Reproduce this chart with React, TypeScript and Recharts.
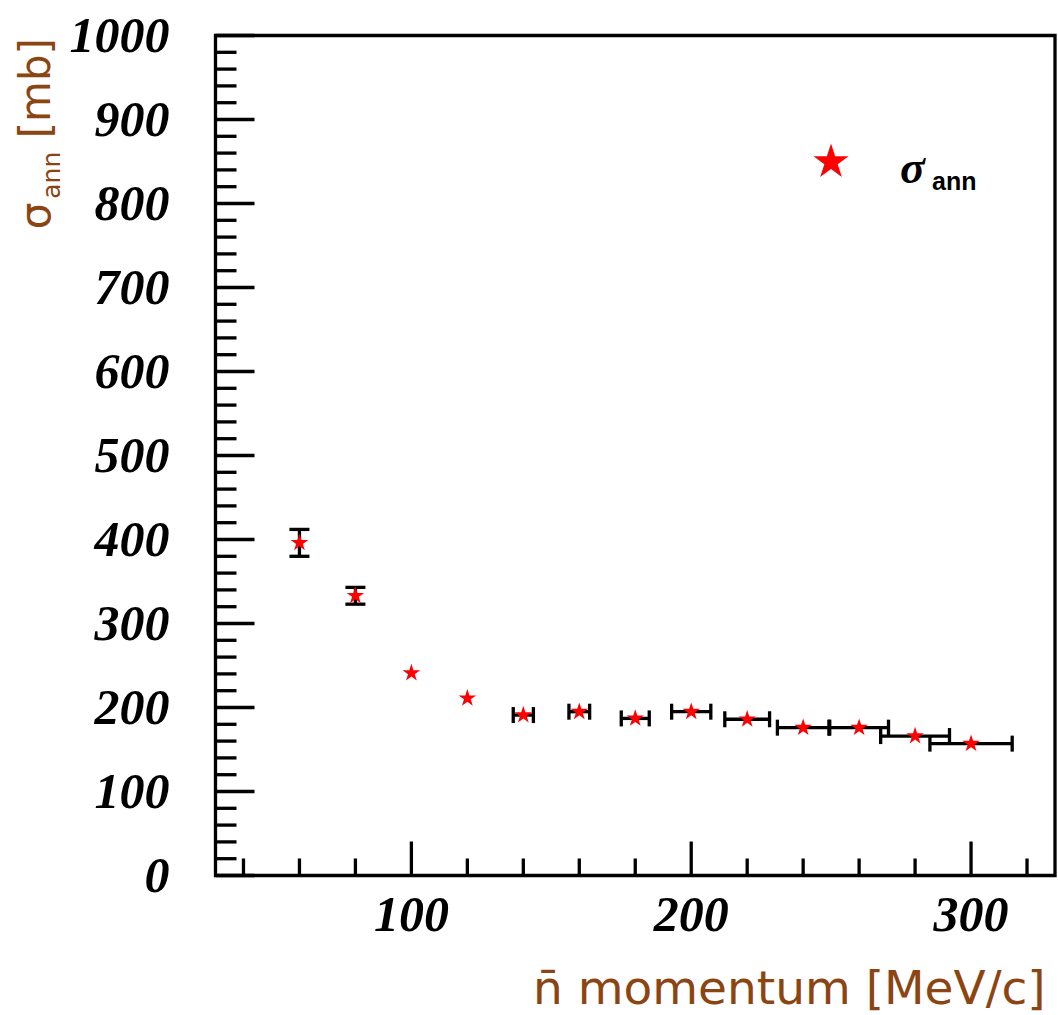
import React from 'react';
import {
  ScatterChart,
  Scatter,
  XAxis,
  YAxis,
  ErrorBar,
  ReferenceArea,
  Legend,
  Symbols,
} from 'recharts';

// Antineutron annihilation cross section vs. momentum
const momentum = [60, 80, 100, 120, 140, 160, 180, 200, 220, 240, 260, 280, 300];
const sigmaAnn = [396, 333, 241, 211, 191, 195, 187, 195, 186, 176, 176, 166, 157];
const sigmaErr = [16, 10, null, null, null, null, null, null, null, null, null, null, null];
const momentumErr = [null, null, null, null, 3.6, 3.7, 5, 7, 8, 9.2, 10.5, 12.3, 14.7];

// Axis ticks
const xTicks = [40, 60, 80, 100, 120, 140, 160, 180, 200, 220, 240, 260, 280, 300, 320];
const xMajorLabels = [100, 200, 300];
const yMajorLabels = [0, 100, 200, 300, 400, 500, 600, 700, 800, 900, 1000];
const yTicks = yMajorLabels.flatMap((v) => (v < 1000 ? [v, v + 20, v + 40, v + 60, v + 80] : [v]));

const points = momentum.map((p, i) => ({
  p,
  s: sigmaAnn[i],
  ds: sigmaErr[i],
  dp: momentumErr[i],
}));

const LINE = 3.3;
const BROWN = '#8B4513';
const RED = '#ff0000';

const tickFont: React.CSSProperties = {
  fontFamily: "'Liberation Serif', 'DejaVu Serif', serif",
  fontWeight: 'bold',
  fontStyle: 'italic',
  fontSize: 50,
};

const titleFont: React.CSSProperties = {
  fontFamily: "'DejaVu Sans', sans-serif",
  fill: BROWN,
};

const YTick = (props: any) => {
  const { x, y, payload } = props;
  const v = payload.value;
  const major = yMajorLabels.includes(v);
  return (
    <g>
      <line x1={x} x2={x + (major ? 39 : 21)} y1={y} y2={y} stroke="#000" strokeWidth={LINE} />
      {major && (
        <text x={x - 46} y={y} dy={16.5} textAnchor="end" fill="#000" style={tickFont}>
          {v}
        </text>
      )}
    </g>
  );
};

const XTick = (props: any) => {
  const { x, y, payload } = props;
  const v = payload.value;
  const major = xMajorLabels.includes(v);
  return (
    <g>
      <line x1={x} x2={x} y1={y} y2={y - (major ? 34 : 17)} stroke="#000" strokeWidth={LINE} />
      {major && (
        <text x={x} y={y} dy={55.5} textAnchor="middle" fill="#000" style={tickFont}>
          {v}
        </text>
      )}
    </g>
  );
};

const XTitle = (props: any) => {
  const vb = props.viewBox;
  return (
    <text x={vb.x + 317.5} y={vb.y + 128.5} style={{ ...titleFont, fontSize: 47 }}>
      {'n\u0304 momentum [MeV/c]'}
    </text>
  );
};

const YTitle = (props: any) => {
  const vb = props.viewBox;
  const ax = vb.x + vb.width - 165.5;
  const ay = vb.y + 2.5;
  return (
    <text
      transform={`translate(${ax},${ay}) rotate(-90)`}
      textAnchor="end"
      style={{ ...titleFont, fontSize: 42 }}
    >
      <tspan>σ</tspan>
      <tspan dx={4} dy={10} fontSize={25}>
        ann
      </tspan>
      <tspan dy={-10}> [mb]</tspan>
    </text>
  );
};

const StarShape = (props: any) => (
  <Symbols type="star" size={95} cx={props.cx} cy={props.cy} fill={RED} />
);

const LegendContent = () => (
  <svg width={230} height={80}>
    <Symbols type="star" size={380} cx={41} cy={37} fill={RED} />
    <text x={110} y={58} fill="#000" style={{ ...tickFont, fontSize: 46 }}>
      σ
    </text>
    <text
      x={142}
      y={65}
      fill="#000"
      style={{ fontFamily: "'Liberation Sans', Arial, sans-serif", fontWeight: 'bold', fontSize: 25 }}
    >
      ann
    </text>
  </svg>
);

export default function App() {
  return (
    <div style={{ width: 1058, height: 1015, background: '#fff' }}>
      <style>{'body{margin:0;background:#fff;}'}</style>
      <ScatterChart
        width={1058}
        height={1015}
        margin={{ top: 35.5, right: 3, bottom: 79.5, left: 0 }}
      >
        <XAxis
          type="number"
          dataKey="p"
          domain={[30, 330]}
          ticks={xTicks}
          interval={0}
          tickSize={0}
          tickMargin={0}
          tickLine={false}
          axisLine={false}
          tick={XTick}
          height={60}
          allowDataOverflow
          label={{ content: XTitle }}
        />
        <YAxis
          type="number"
          dataKey="s"
          domain={[0, 1000]}
          ticks={yTicks}
          interval={0}
          tickSize={0}
          tickMargin={0}
          tickLine={false}
          axisLine={false}
          tick={YTick}
          width={215.5}
          allowDataOverflow
          label={{ content: YTitle }}
        />
        <ReferenceArea
          x1={30}
          x2={330}
          y1={0}
          y2={1000}
          fill="none"
          fillOpacity={0}
          stroke="#000"
          strokeWidth={LINE}
        />
        <Scatter data={points} fill={RED} shape={StarShape} isAnimationActive={false}>
          <ErrorBar dataKey="ds" direction="y" width={10} stroke="#000" strokeWidth={LINE} isAnimationActive={false} />
          <ErrorBar dataKey="dp" direction="x" width={8} stroke="#000" strokeWidth={LINE} isAnimationActive={false} />
        </Scatter>
        <Legend
          layout="horizontal"
          verticalAlign="middle"
          align="center"
          wrapperStyle={{ left: 790, top: 125, width: 230, height: 80 }}
          content={LegendContent}
        />
      </ScatterChart>
    </div>
  );
}
